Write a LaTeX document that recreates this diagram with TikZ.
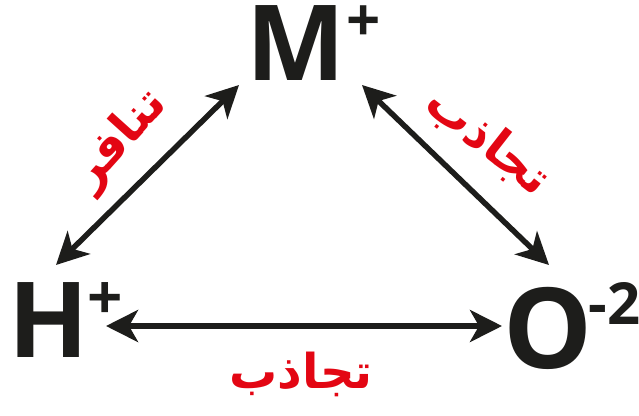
\documentclass[tikz,border=0pt]{standalone}
\usepackage{fontspec}
\setmainfont{Open Sans}
\newfontfamily\arabicfont[Script=Arabic]{DejaVu Sans}
\TeXXeTstate=1
\usetikzlibrary{arrows.meta}
\definecolor{ink}{HTML}{1D1D1B}
\definecolor{redlab}{HTML}{E30613}
\begin{document}
\begin{tikzpicture}[x=1pt,y=-1pt,
  ion/.style={inner sep=0pt,text=ink,text height=76pt,text depth=0pt,font=\bfseries\fontsize{105}{105}\selectfont},
  lab/.style={inner sep=0pt,text=redlab,font=\arabicfont\bfseries\fontsize{48}{48}\selectfont},
  link/.style={draw=ink,line width=5.5pt,{Stealth[length=32pt,width=32pt,inset=9pt]}-{Stealth[length=32pt,width=32pt,inset=9pt]}}]
\useasboundingbox (0,0) rectangle (639,415);
\node[ion,anchor=base west] (M) at (246,80) {M\kern1pt\raisebox{39pt}[0pt][0pt]{\fontsize{60}{60}\selectfont +}};
\node[ion,anchor=base west] (H) at (8,357) {H\kern-1pt\raisebox{38pt}[0pt][0pt]{\fontsize{62}{62}\selectfont +}};
\node[ion,anchor=base west] (O) at (503,368) {\fontsize{112}{112}\selectfont O\kern-4pt\raisebox{44pt}[0pt][0pt]{\fontsize{58}{58}\selectfont -2}};
\coordinate (hm) at (56,265);
\coordinate (mh) at (239,85);
\coordinate (mo) at (362,85);
\coordinate (om) at (549,265);
\coordinate (ho) at (106,326);
\coordinate (oh) at (502,326);
\draw[link] (hm) -- (mh);
\draw[link] (mo) -- (om);
\draw[link] (ho) -- (oh);
\node[lab,rotate=48] (l1) at (120,140) {\beginR تنافر\endR};
\node[lab,rotate=-38] (l2) at (488,142) {\beginR تجاذب\endR};
\node[lab] (l3) at (301,374) {\beginR تجاذب\endR};
\end{tikzpicture}
\end{document}
